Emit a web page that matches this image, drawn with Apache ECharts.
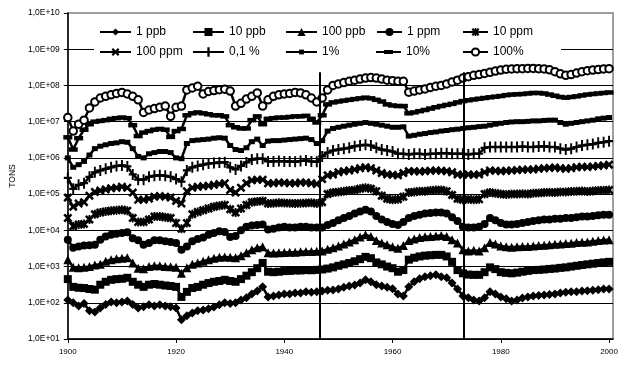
<!DOCTYPE html>
<html><head><meta charset="utf-8">
<script src="https://cdn.jsdelivr.net/npm/echarts@6/dist/echarts.min.js"></script>
<style>html,body{margin:0;padding:0;background:#fff}#c{width:625px;height:366px}</style>
</head><body><div id="c"></div>
<script>
const YEARS = Array.from({length: 101}, (_, i) => 1900 + i);
const NAMES = ['1 ppb','10 ppb','100 ppb','1 ppm','10 ppm','100 ppm','0,1 %','1%','10%','100%'];
const X_TICKS = [1900, 1920, 1940, 1960, 1980, 2000];
const BREAK_YEARS = [1946.6, 1973.2];
const BREAK_TOP = 2.3e8;

const S_1PPB = [120,100,82,95,60,56,72,90,105,100,
 105,112,90,72,78,88,82,88,82,78,
 72,34,44,52,60,63,68,76,88,100,
 95,100,120,138,175,210,275,145,155,165,
 175,175,185,185,200,195,200,210,220,227,
 240,270,290,310,350,430,380,315,290,270,
 245,175,155,275,380,460,520,560,590,520,
 490,350,240,155,138,120,112,138,200,175,
 145,130,112,120,135,145,155,158,165,170,
 175,185,195,200,200,210,215,220,230,240,
 240];
const S_10PPB = [450,275,260,255,240,230,315,380,430,450,
 460,490,380,315,275,315,330,315,300,290,
 275,145,200,255,275,315,350,380,400,430,
 400,380,450,560,700,900,1260,720,700,720,
 750,760,780,780,800,790,810,830,880,950,
 1050,1150,1250,1400,1600,1850,1700,1300,1150,1000,
 900,720,800,1550,1750,1900,2000,2050,2100,2100,
 1900,1350,800,650,600,590,590,700,950,850,
 700,670,650,680,720,760,800,810,830,860,
 880,920,950,1000,1050,1100,1150,1200,1250,1300,
 1350];
const S_100PPB = [1550,950,930,950,1000,1100,1150,1400,1550,1650,
 1700,1750,1260,900,870,1000,1050,1050,1000,980,
 950,650,930,1150,1260,1400,1550,1700,1800,1850,
 1800,1750,2000,2400,2900,3300,3500,2400,2350,2400,
 2450,2500,2500,2550,2600,2600,2650,2700,3000,3300,
 3700,4200,4800,5500,6500,7500,6800,5200,4500,4000,
 3500,3200,3800,5200,5800,6300,6600,6800,7000,7200,
 6800,5500,4500,2900,2700,2800,2700,3300,4600,4200,
 3700,3500,3400,3500,3600,3600,3700,3800,3900,4000,
 4100,4200,4300,4400,4600,4700,4800,5000,5200,5400,
 5500];
const S_1PPM = [5500,3300,3600,3800,3900,4000,5500,6800,7500,8000,
 8500,8800,6000,5300,4000,4500,5300,5300,5000,4800,
 4500,2900,3600,5000,5800,6300,7500,8500,9500,9000,
 6500,7000,10000,12600,13500,14000,14500,10500,11000,12000,
 12500,12000,12000,12500,12500,12000,12000,12000,14000,16000,
 19000,22000,25000,29000,33000,37000,33000,25000,20000,17000,
 15000,14000,17000,22000,25000,27000,29000,30000,31000,31000,
 29000,23000,18000,12600,12000,12000,12500,15000,22000,19000,
 16000,14500,14500,15000,16000,17000,18000,19000,20000,20000,
 21000,21000,22000,22000,23000,24000,24000,25000,26000,27000,
 27000];
const S_10PPM = [22000,13000,14500,15000,20000,28000,31000,33000,35000,36000,
 37000,35000,22000,17000,17000,20000,24000,24000,23000,22000,
 16000,11000,16000,28000,32000,36000,40000,45000,48000,50000,
 38000,31000,40000,50000,60000,63000,65000,55000,56000,58000,
 57000,56000,55000,56000,57000,58000,55000,60000,100000,110000,
 115000,120000,125000,130000,140000,150000,140000,120000,90000,75000,
 70000,72000,85000,110000,115000,120000,120000,125000,130000,130000,
 120000,95000,75000,70000,72000,70000,72000,100000,110000,105000,
 100000,98000,100000,100000,102000,100000,105000,108000,110000,112000,
 110000,115000,115000,118000,120000,122000,118000,122000,125000,128000,
 130000];
const S_100PPM = [80e3,45e3,55e3,60e3,90e3,115e3,125e3,135e3,145e3,150e3,
 160e3,150e3,110e3,70e3,70e3,75e3,85e3,88e3,85e3,80e3,
 65e3,55e3,120e3,150e3,160e3,165e3,170e3,180e3,190e3,200e3,
 130e3,110e3,150e3,200e3,240e3,250e3,250e3,200e3,200e3,210e3,
 205e3,200e3,200e3,210e3,210e3,200e3,190e3,260e3,330e3,350e3,
 400e3,430e3,450e3,480e3,520e3,550e3,520e3,450e3,380e3,350e3,
 340e3,330e3,380e3,430e3,430e3,420e3,430e3,440e3,450e3,440e3,
 430e3,400e3,350e3,340e3,350e3,340e3,350e3,400e3,450e3,440e3,
 430e3,440e3,450e3,460e3,470e3,480e3,480e3,500e3,520e3,530e3,
 540e3,520e3,500e3,520e3,550e3,570e3,560e3,580e3,600e3,620e3,
 650e3];
const S_01PCT = [280e3,140e3,180e3,200e3,300e3,400e3,450e3,500e3,550e3,600e3,
 620e3,580e3,350e3,250e3,250e3,300e3,320e3,330e3,320e3,300e3,
 260e3,220e3,450e3,550e3,600e3,650e3,700e3,720e3,750e3,760e3,
 550e3,480e3,600e3,750e3,900e3,950e3,950e3,800e3,800e3,820e3,
 800e3,800e3,780e3,820e3,850e3,800e3,780e3,1.1e6,1.4e6,1.6e6,
 1.7e6,1.8e6,1.9e6,2.1e6,2.2e6,2.3e6,2.2e6,1.9e6,1.7e6,1.6e6,
 1.5e6,1.3e6,1.3e6,1.25e6,1.3e6,1.3e6,1.25e6,1.3e6,1.3e6,1.35e6,
 1.35e6,1.3e6,1.3e6,1.3e6,1.25e6,1.3e6,1.3e6,1.9e6,2.0e6,2.0e6,
 2.0e6,2.0e6,2.0e6,2.0e6,2.05e6,2.0e6,2.0e6,2.05e6,2.1e6,2.0e6,
 2.0e6,1.8e6,1.7e6,1.8e6,2.0e6,2.2e6,2.3e6,2.4e6,2.6e6,2.7e6,
 2.9e6];
const S_1PCT = [1.0e6,0.55e6,0.65e6,0.8e6,1.2e6,1.8e6,2.1e6,2.3e6,2.5e6,2.6e6,
 2.8e6,2.7e6,1.8e6,1.1e6,1.0e6,1.3e6,1.4e6,1.5e6,1.5e6,1.4e6,
 1.0e6,0.95e6,2.5e6,3.0e6,3.1e6,3.2e6,3.3e6,3.5e6,3.6e6,3.5e6,
 2.2e6,1.7e6,1.6e6,1.9e6,2.8e6,3.3e6,2.2e6,2.9e6,3.0e6,3.0e6,
 3.1e6,3.2e6,3.3e6,3.4e6,3.5e6,3.2e6,2.5e6,3.0e6,5.5e6,6.5e6,
 7.0e6,7.5e6,8.0e6,8.5e6,9.0e6,9.5e6,9.0e6,8.5e6,8.0e6,7.5e6,
 7.0e6,7.0e6,7.2e6,4.0e6,4.2e6,4.5e6,4.7e6,5.0e6,5.2e6,5.5e6,
 5.7e6,6.0e6,6.2e6,6.5e6,6.8e6,7.0e6,7.3e6,7.5e6,8.0e6,8.5e6,
 9.0e6,9.5e6,9.8e6,10.0e6,10.0e6,10.2e6,10.5e6,10.5e6,10.8e6,11.0e6,
 11.0e6,9.5e6,8.5e6,9.0e6,9.5e6,10.0e6,10.5e6,11.0e6,12.0e6,12.5e6,
 13.0e6];
const S_10PCT = [3.7e6,1.7e6,3.5e6,6.0e6,8.5e6,10.0e6,10.5e6,11.0e6,12.0e6,12.5e6,
 13.0e6,12.5e6,8.0e6,4.0e6,5.0e6,5.5e6,6.0e6,6.3e6,6.0e6,3.8e6,
 5.5e6,6.3e6,15e6,17e6,18e6,17e6,16e6,15e6,15e6,14e6,
 8.0e6,7.0e6,6.5e6,6.5e6,11e6,14e6,8.5e6,12e6,12.5e6,13e6,
 13e6,13.5e6,14e6,14e6,14.5e6,12e6,9.5e6,15e6,30e6,34e6,
 36e6,38e6,40e6,42e6,44e6,46e6,44e6,40e6,36e6,30e6,
 28e6,27e6,27e6,17e6,18e6,19.5e6,21e6,23e6,25e6,27e6,
 29e6,31e6,34e6,37e6,39e6,41e6,43e6,45e6,47e6,49e6,
 51e6,54e6,56e6,57e6,58e6,60e6,62e6,62e6,60e6,56e6,
 52e6,48e6,46e6,48e6,50e6,53e6,56e6,58e6,60e6,62e6,
 64e6];
const S_100PCT = [13e6,5.5e6,8.5e6,11e6,24e6,35e6,45e6,50e6,55e6,60e6,
 64e6,58e6,50e6,40e6,18e6,21e6,23e6,25e6,27e6,14e6,
 25e6,27e6,75e6,85e6,95e6,58e6,68e6,72e6,76e6,79e6,
 70e6,27e6,32e6,42e6,50e6,62e6,27e6,40e6,50e6,55e6,
 58e6,60e6,64e6,62e6,55e6,45e6,35e6,45e6,75e6,100e6,
 110e6,120e6,130e6,140e6,150e6,160e6,165e6,160e6,150e6,140e6,
 135e6,130e6,130e6,65e6,70e6,75e6,80e6,88e6,95e6,100e6,
 110e6,125e6,140e6,160e6,175e6,190e6,200e6,215e6,230e6,250e6,
 265e6,280e6,285e6,290e6,290e6,295e6,295e6,290e6,285e6,270e6,
 240e6,210e6,190e6,200e6,220e6,240e6,255e6,265e6,275e6,285e6,
 290e6];

const VALUES = [S_1PPB,S_10PPB,S_100PPB,S_1PPM,S_10PPM,S_100PPM,S_01PCT,S_1PCT,S_10PCT,S_100PCT];

const P_X = 'path://M2,0 L5,3 L8,0 L10,2 L7,5 L10,8 L8,10 L5,7 L2,10 L0,8 L3,5 L0,2 Z';
const P_AST = 'path://M2,0 L5,3 L8,0 L10,2 L7,5 L10,8 L8,10 L5,7 L2,10 L0,8 L3,5 L0,2 Z M4,0 L6,0 L6,10 L4,10 Z';
const P_PLUS = 'path://M3.8,0 L6.2,0 L6.2,4 L10,4 L10,6 L6.2,6 L6.2,10 L3.8,10 L3.8,6 L0,6 L0,4 L3.8,4 Z';
const P_BAR_LEG = 'path://M0,1 L8,1 L8,0 L17,0 L17,1 L25,1 L25,3 L17,3 L17,4 L8,4 L8,3 L0,3 Z';

const SYM = [
  {symbol:'diamond', size:9, legH:9},
  {symbol:'rect', size:8, legH:10},
  {symbol:'triangle', size:9, legH:10},
  {symbol:'circle', size:8, legH:10},
  {symbol:P_AST, size:9, legH:10},
  {symbol:P_X, size:9, legH:10},
  {symbol:P_PLUS, size:[8,11], legH:12},
  {symbol:'rect', size:[6,5], legH:6},
  {symbol:'rect', size:[9,4.5], legH:4, icon:P_BAR_LEG},
  {symbol:'emptyCircle', size:7.5, legH:9}
];

const FONT = 'Liberation Sans, Arial, sans-serif';
const COL_LEFT = [99, 192, 285, 376, 462];
const COL_W = [31, 31, 31, 25, 25];
const ROW_TOP = [25, 45];

const legends = NAMES.map((n, i) => {
  const col = i % 5, row = Math.floor(i / 5);
  const s = SYM[i];
  const item = s.icon ? {name: n, icon: s.icon} : {name: n};
  return {
    data: [item], left: COL_LEFT[col], top: ROW_TOP[row], padding: 0,
    itemWidth: s.icon ? 25 : COL_W[col], itemHeight: s.legH,
    selectedMode: false,
    textStyle: {fontSize: 12, fontFamily: FONT, color: '#000', lineHeight: 14}
  };
});

const series = NAMES.map((n, i) => {
  const s = SYM[i];
  const o = {
    name: n, type: 'line',
    data: YEARS.map((y, k) => [y, VALUES[i][k]]),
    symbol: s.symbol, symbolSize: s.size, showAllSymbol: true,
    lineStyle: {color: '#000', width: 2.5},
    itemStyle: {color: '#000', borderWidth: s.symbol === 'emptyCircle' ? 2 : 0},
    emphasis: {disabled: true}, z: 2
  };
  if (i === 0) {
    o.markLine = {
      silent: true, symbol: ['none','none'], label: {show: false},
      lineStyle: {color: '#000', width: 2, type: 'solid'},
      data: BREAK_YEARS.map(x => [{coord: [x, BREAK_TOP]}, {coord: [x, 10]}])
    };
  }
  return o;
});

const chart = echarts.init(document.getElementById('c'), null, {renderer: 'canvas'});
chart.setOption({
  animation: false,
  backgroundColor: '#fff',
  grid: {left: 61, top: 13, width: 552, height: 326, show: true, borderColor: '#808080', borderWidth: 1.5, backgroundColor: 'transparent'},
  xAxis: {
    type: 'value', min: 1900, max: 2000.73,
    axisLine: {lineStyle: {color: '#000', width: 1.5}},
    axisTick: {show: true, length: 4, lineStyle: {color: '#000'}, customValues: X_TICKS},
    axisLabel: {customValues: X_TICKS, formatter: v => String(v), fontSize: 8, fontFamily: FONT, color: '#000', margin: 9},
    splitLine: {show: false}
  },
  yAxis: {
    type: 'log', logBase: 10, min: 10, max: 1e10, splitNumber: 9,
    name: 'TONS', nameLocation: 'middle', nameGap: 46, nameRotate: 90,
    nameTextStyle: {fontSize: 8.5, fontFamily: FONT, color: '#000'},
    axisLine: {show: true, lineStyle: {color: '#000', width: 1.5}},
    axisTick: {show: true, length: 4, lineStyle: {color: '#000'}},
    axisLabel: {
      fontSize: 8.5, fontFamily: FONT, color: '#000', margin: 8,
      formatter: v => { const e = Math.round(Math.log10(v)); return '1,0E+' + (e < 10 ? '0' : '') + e; }
    },
    splitLine: {show: true, showMaxLine: false, lineStyle: {color: '#000', width: 1}}
  },
  legend: legends,
  graphic: [{type: 'rect', z: 1, shape: {x: 94, y: 20, width: 467, height: 40}, style: {fill: '#fff'}, silent: true}],
  series: series
});
</script></body></html>
